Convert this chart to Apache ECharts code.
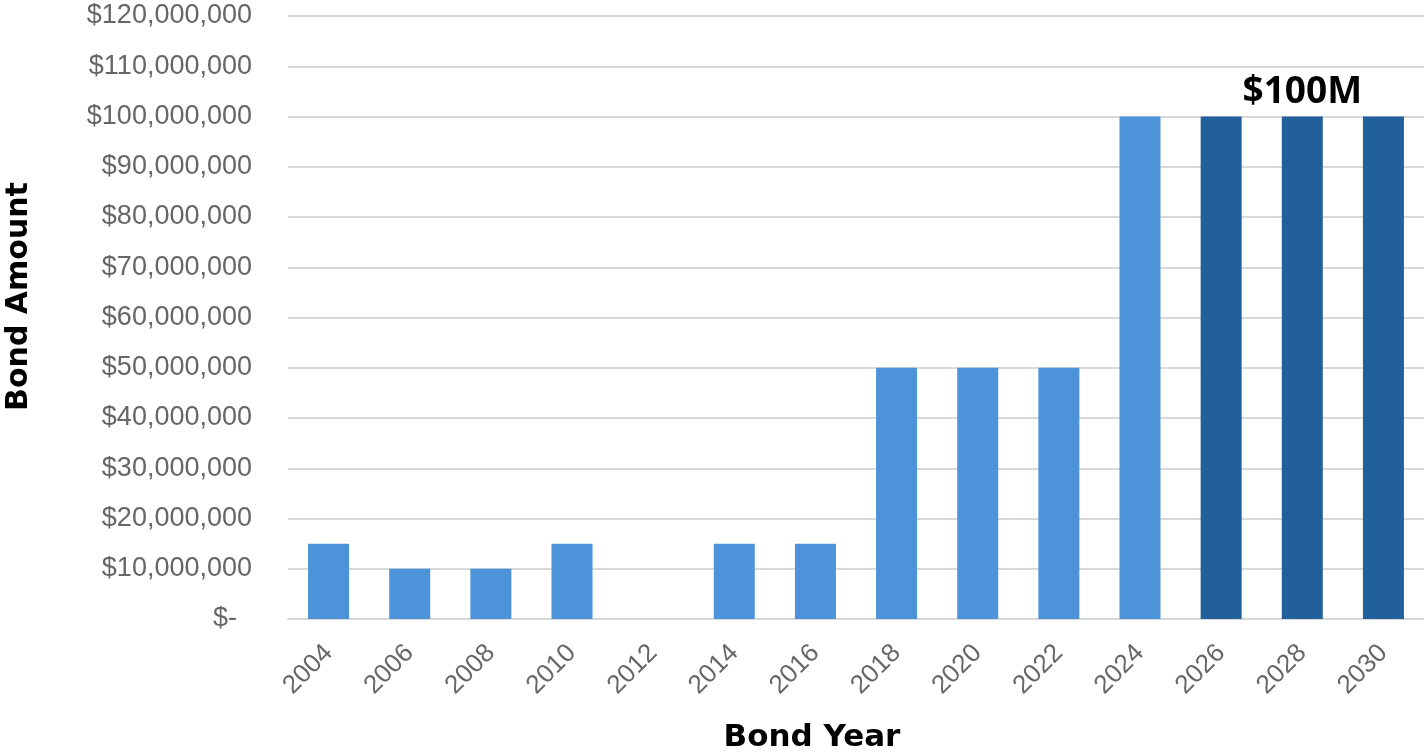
<!DOCTYPE html>
<html>
<head>
<meta charset="utf-8">
<script src="https://cdn.jsdelivr.net/npm/echarts@6/dist/echarts.min.js"></script>
<style>
  html, body { margin: 0; padding: 0; background: #fff; }
  #chart { width: 1424px; height: 752px; }
</style>
</head>
<body>
<div id="chart"></div>
<script>
// bond years and amounts
var years = ['2004', '2006', '2008', '2010', '2012', '2014', '2016', '2018', '2020', '2022', '2024', '2026', '2028', '2030'];
var amounts = [15000000, 10000000, 10000000, 15000000, 0, 15000000, 15000000, 50000000, 50000000, 50000000, 100000000, 100000000, 100000000, 100000000];
// future bonds drawn darker
var future = [false, false, false, false, false, false, false, false, false, false, false, true, true, true];
var calloutYear = '2028';
var calloutText = '$100M';

var lightBlue = '#4D93D9';
var darkBlue = '#22609B';

function money(v) {
    if (v === 0) return '$-  ';
    return '$' + String(v).replace(/\B(?=(\d{3})+(?!\d))/g, ',');
}

var barData = amounts.map(function (v, i) {
    var item = {
        value: v,
        itemStyle: { color: future[i] ? darkBlue : lightBlue }
    };
    if (years[i] === calloutYear) {
        item.label = {
            show: true,
            position: 'top',
            distance: 6,
            formatter: calloutText,
            color: '#000',
            fontFamily: 'Open Sans',
            fontWeight: 'bold',
            fontSize: 37
        };
    }
    return item;
});

var chart = echarts.init(document.getElementById('chart'));
chart.setOption({
    animation: false,
    grid: { left: 288, right: 0, top: 16, bottom: 133, outerBoundsMode: 'none' },
    xAxis: {
        type: 'category',
        data: years,
        name: 'Bond Year',
        nameLocation: 'middle',
        nameGap: 103,
        nameTextStyle: { fontFamily: 'DejaVu Sans', fontWeight: 'bold', fontSize: 31, color: '#000', padding: [0, 88, 0, 0] },
        axisLine: { lineStyle: { color: '#d9d9d9', width: 2 } },
        axisTick: { show: false },
        axisLabel: {
            rotate: 45,
            margin: 30,
            fontFamily: 'Liberation Sans',
            fontSize: 26,
            color: '#666666'
        }
    },
    yAxis: {
        type: 'value',
        min: 0,
        max: 120000000,
        interval: 10000000,
        name: 'Bond Amount',
        nameLocation: 'middle',
        nameRotate: 90,
        nameGap: 254,
        nameTextStyle: { fontFamily: 'DejaVu Sans', fontWeight: 'bold', fontSize: 30, color: '#000', padding: [0, 0, 0, 42] },
        axisLine: { show: false },
        axisTick: { show: false },
        splitLine: { lineStyle: { color: '#d9d9d9', width: 2 } },
        axisLabel: {
            margin: 36,
            fontFamily: 'Liberation Sans',
            fontSize: 27,
            color: '#666666',
            formatter: money
        }
    },
    series: [{
        type: 'bar',
        data: barData,
        barWidth: 41
    }]
});
</script>
</body>
</html>
